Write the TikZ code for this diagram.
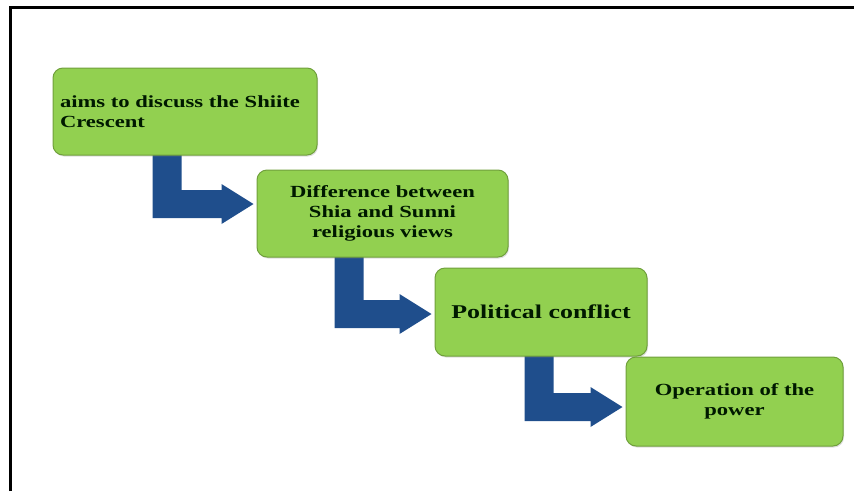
\documentclass[tikz,border=0pt]{standalone}
\usepackage{fontspec}
\setmainfont{Liberation Serif}[FakeStretch=1.33]
\usetikzlibrary{calc,shadows,backgrounds}

\definecolor{verdecaja}{RGB}{146,208,80}
\definecolor{bordecaja}{RGB}{112,160,60}
\definecolor{azulflecha}{RGB}{31,78,140}

\tikzset{
    caja/.style={draw=bordecaja, line width=1pt, fill=verdecaja, rounded corners=10pt,
        minimum height=87pt, inner sep=0pt, align=center, text=black!90!green,
        font=\fontsize{17}{20}\selectfont\bfseries,
        drop shadow={opacity=0.25, shadow xshift=1pt, shadow yshift=-1.5pt}},
    flecha/.style={fill=azulflecha}
}

\begin{document}
\begin{tikzpicture}[x=1pt,y=-1pt]

    \useasboundingbox (0,0) rectangle (854,491);

    %Marco
    \draw[line width=3.5pt] (10.5,491) -- (10.5,7.5) -- (854,7.5);

    %Cajas
    \node[caja, minimum width=264pt, text width=250pt, align=left] (b1) at (185,111.5) {aims to discuss the Shiite\\Crescent};
    \node[caja, minimum width=251pt] (b2) at (382.5,213.5) {Difference between\\Shia and Sunni\\religious views};
    \node[caja, minimum width=212pt, minimum height=88pt, font=\fontsize{19.5}{23}\selectfont\bfseries] (b3) at (541,312) {Political conflict};
    \node[caja, minimum width=217pt, minimum height=89pt] (b4) at (734.5,401.5) {Operation of the\\power};

    %Flechas
    \begin{scope}[on background layer]
    \foreach \i/\dx/\dy [evaluate={\j=int(\i+1)}] in {1/100/-9.5, 2/78/2, 3/90/5.5}{
        \coordinate (s\i) at ($(b\i.west)+(\dx,0)$);
        \coordinate (t\i) at ($(b\j.west)+(-3,\dy)$);
        \fill[flecha] (s\i) -- ++(29,0) -- ($(s\i |- t\i)+(29,-14)$) -- ($(t\i)+(-32,-14)$) -- ++(0,-6)
            -- (t\i) -- ($(t\i)+(-32,20)$) -- ++(0,-6) -- ($(s\i |- t\i)+(0,14)$) -- cycle;
    }
    \end{scope}

\end{tikzpicture}
\end{document}
